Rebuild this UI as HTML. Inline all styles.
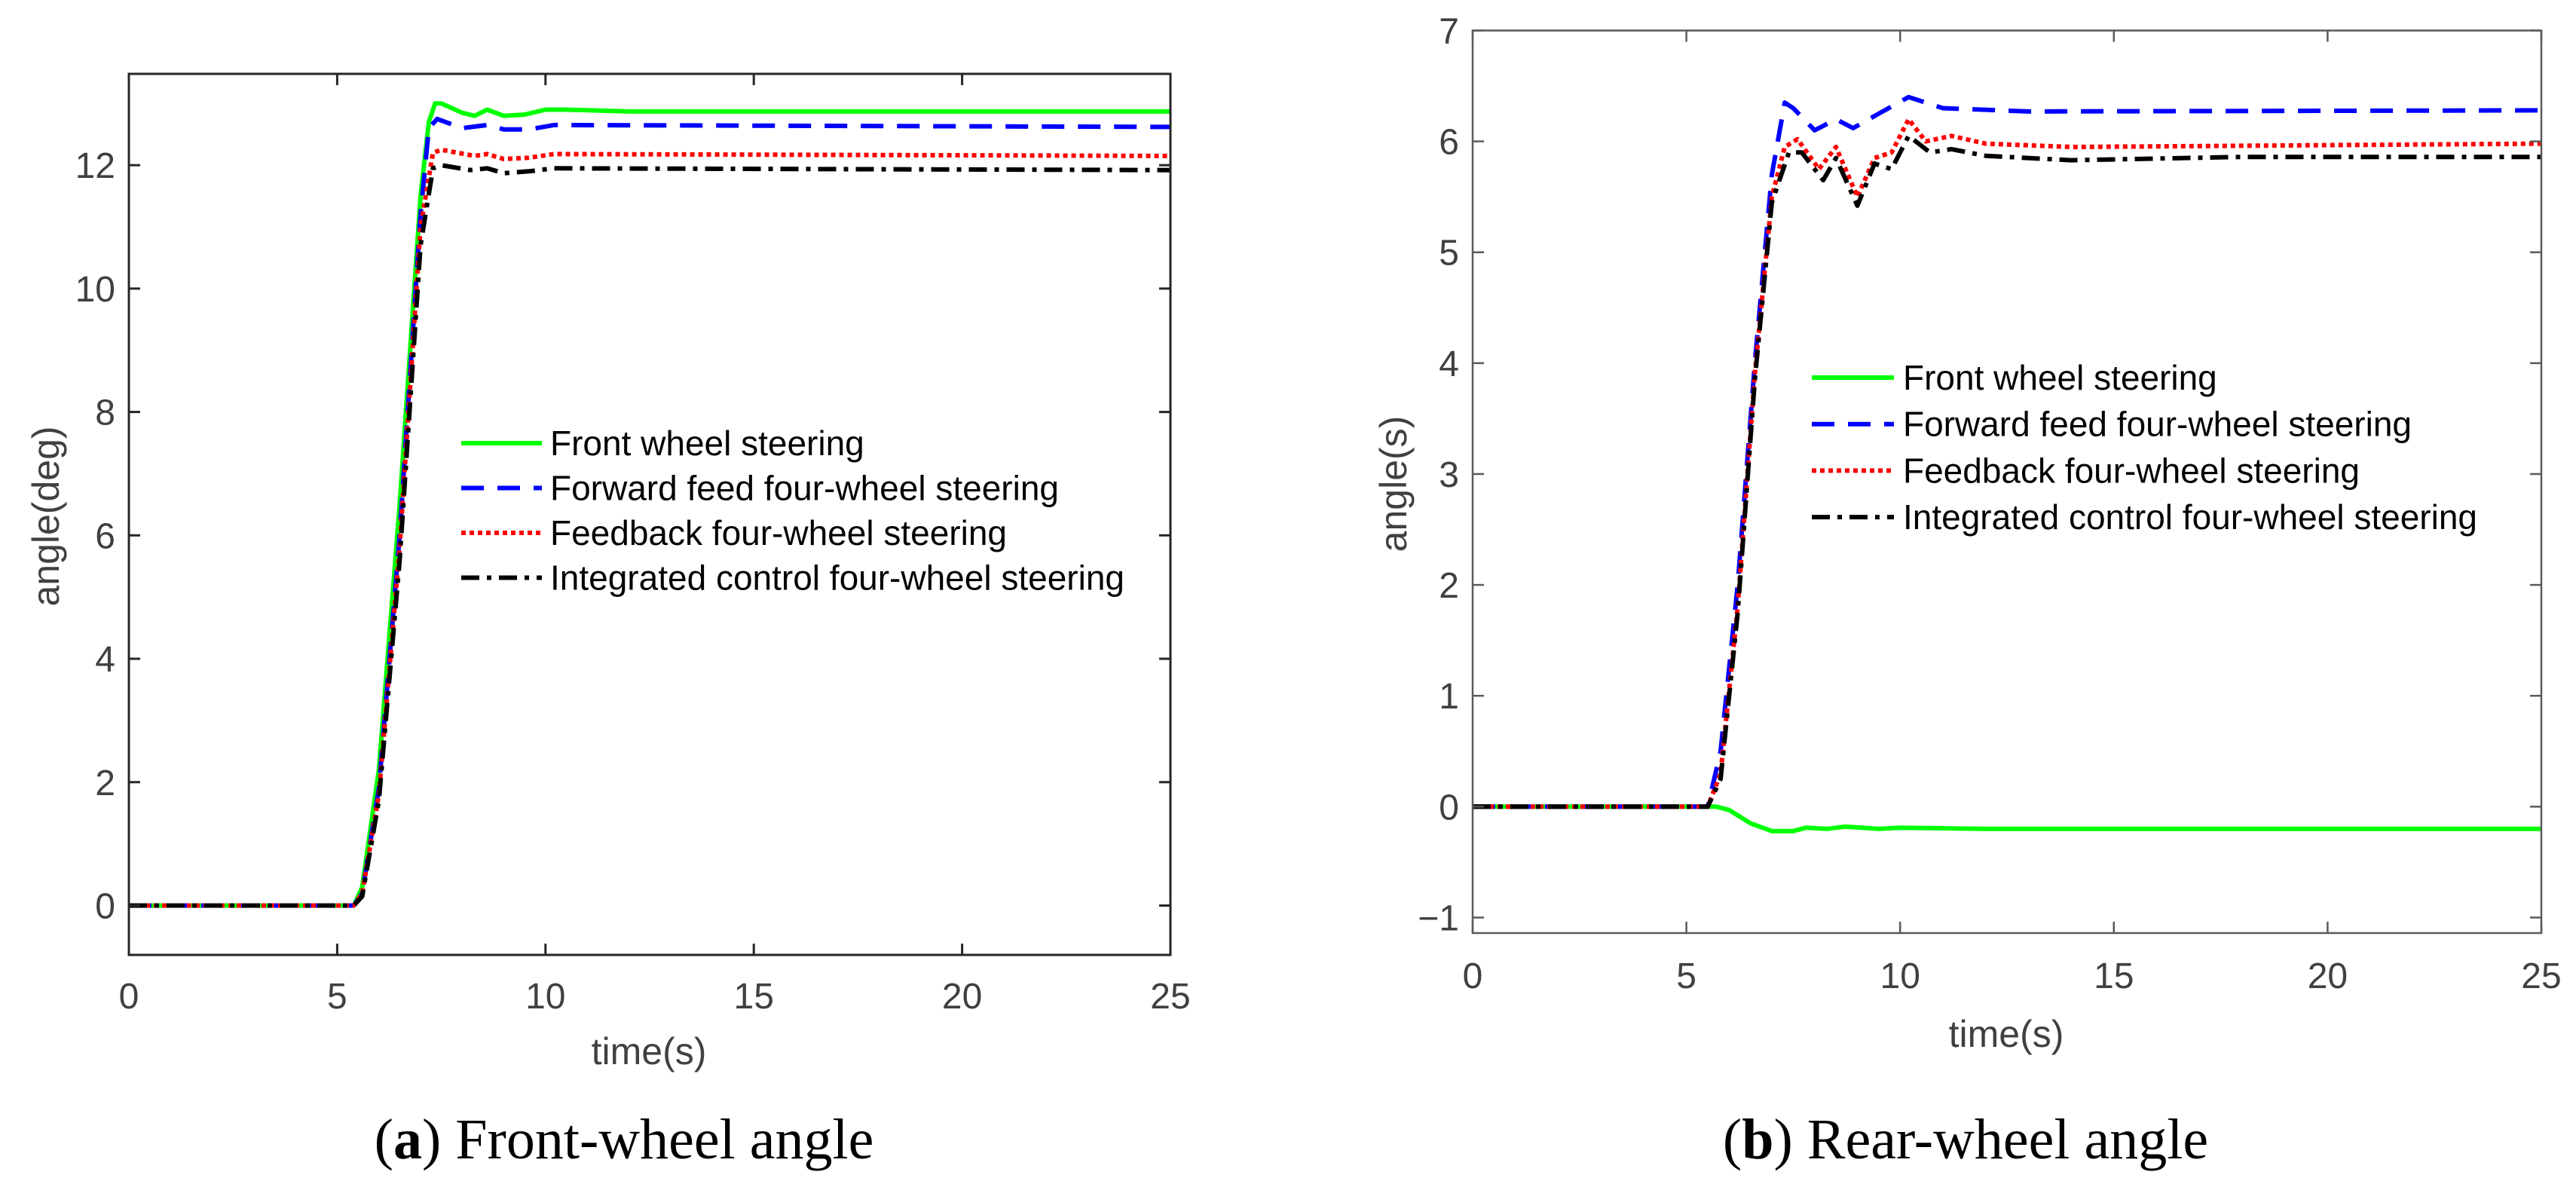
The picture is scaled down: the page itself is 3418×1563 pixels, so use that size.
<!DOCTYPE html>
<html><head><meta charset="utf-8"><style>
html,body{margin:0;padding:0;background:#fff;}
svg{display:block;font-family:"Liberation Sans",Arial,sans-serif;}
</style></head><body>
<svg id="fig" width="3418" height="1563" viewBox="0 0 3418 1563" xmlns="http://www.w3.org/2000/svg">
<rect width="3418" height="1563" fill="#fff"/>
<g id="pa"></g>
<g id="pb"></g>
<text x="828" y="1537" text-anchor="middle" font-family="Liberation Serif, serif" font-size="76" fill="#000">(<tspan font-weight="bold">a</tspan>) Front-wheel angle</text>
<text x="2608" y="1537" text-anchor="middle" font-family="Liberation Serif, serif" font-size="76" fill="#000">(<tspan font-weight="bold">b</tspan>) Rear-wheel angle</text>
</svg>
<script>
const xTicks = [0,5,10,15,20,25];
const yTicksA = [0,2,4,6,8,10,12];
const yTicksB = [-1,0,1,2,3,4,5,6,7];
const seriesNames = ["Front wheel steering","Forward feed four-wheel steering","Feedback four-wheel steering","Integrated control four-wheel steering"];
// Plot (a) data: [time, angle]
const aFront = [[0,0],[5.4,0],[5.6,0.3],[6,2.2],[6.5,6.5],[7,11.5],[7.2,12.7],[7.35,13.0],[7.5,13.0],[8,12.85],[8.3,12.8],[8.6,12.9],[9,12.8],[9.5,12.82],[10,12.9],[10.5,12.9],[12,12.87],[25,12.87]];
const aFeed = [[0,0],[5.4,0],[5.6,0.2],[6,1.9],[6.5,6.0],[7,11.2],[7.2,12.6],[7.4,12.75],[8,12.6],[8.6,12.65],[9,12.58],[9.6,12.58],[10.2,12.65],[25,12.62]];
const aBack = [[0,0],[5.4,0],[5.6,0.2],[6,1.8],[6.5,5.8],[7,11.0],[7.3,12.2],[7.5,12.25],[8.3,12.15],[8.6,12.18],[9,12.1],[9.6,12.12],[10.2,12.18],[25,12.15]];
const aInt = [[0,0],[5.4,0],[5.6,0.15],[6,1.7],[6.5,5.6],[7,10.7],[7.3,11.95],[7.5,12.0],[8.2,11.92],[8.6,11.95],[9,11.87],[9.6,11.9],[10.2,11.95],[25,11.92]];
// Plot (b) data
const bFront = [[0,0],[5.7,0],[6,-0.03],[6.5,-0.15],[7,-0.22],[7.5,-0.22],[7.8,-0.19],[8.3,-0.2],[8.7,-0.18],[9.5,-0.2],[10,-0.19],[12,-0.2],[25,-0.2]];
const bFeed = [[0,0],[5.5,0],[5.8,0.5],[6.2,2.0],[6.6,4.0],[7,5.7],[7.3,6.35],[7.5,6.3],[8,6.1],[8.5,6.2],[8.9,6.12],[9.5,6.25],[10.2,6.4],[11,6.3],[13,6.27],[25,6.28]];
const bBack = [[0,0],[5.5,0],[5.8,0.3],[6.2,1.8],[6.6,3.9],[7,5.5],[7.3,5.95],[7.6,6.02],[8.1,5.75],[8.5,5.95],[9,5.5],[9.4,5.85],[9.8,5.9],[10.2,6.2],[10.6,6.0],[11.2,6.05],[12,5.98],[14,5.95],[25,5.98]];
const bInt = [[0,0],[5.5,0],[5.8,0.25],[6.2,1.75],[6.6,3.85],[7,5.45],[7.4,5.9],[7.7,5.9],[8.2,5.65],[8.5,5.85],[9,5.42],[9.4,5.8],[9.8,5.75],[10.2,6.05],[10.7,5.9],[11.2,5.93],[12,5.87],[14,5.83],[18,5.86],[25,5.86]];

const NS="http://www.w3.org/2000/svg";
function mk(parent,tag,attrs){const e=document.createElementNS(NS,tag);for(const k in attrs)e.setAttribute(k,attrs[k]);parent.appendChild(e);return e;}
const styles=[{c:"#00ff00",d:""},{c:"#0000ff",d:"30 18"},{c:"#ff0000",d:"6 5"},{c:"#000000",d:"24 10 6 10"}];

function plot(g,cfg){
  const X=v=>cfg.l+(v-0)/(25-0)*(cfg.r-cfg.l);
  const Y=v=>cfg.b-(v-cfg.ymin)/(cfg.ymax-cfg.ymin)*(cfg.b-cfg.t);
  const clip="clip"+cfg.id;
  const defs=mk(g,"defs",{});const cp=mk(defs,"clipPath",{id:clip});mk(cp,"rect",{x:cfg.l,y:cfg.t,width:cfg.r-cfg.l,height:cfg.b-cfg.t});
  cfg.series.forEach((s,i)=>{
    const p=mk(g,"polyline",{points:s.map(q=>X(q[0]).toFixed(1)+","+Y(q[1]).toFixed(1)).join(" "),fill:"none",stroke:styles[i].c,"stroke-width":6,"stroke-dasharray":styles[i].d,"clip-path":"url(#"+clip+")","stroke-linejoin":"round"});
    
    
  });
  const box=mk(g,"rect",{x:cfg.l,y:cfg.t,width:cfg.r-cfg.l,height:cfg.b-cfg.t,fill:"none",stroke:cfg.ax,"stroke-width":cfg.aw});
  
  
  xTicks.forEach(v=>{
    mk(g,"line",{x1:X(v),x2:X(v),y1:cfg.b,y2:cfg.b-15,stroke:cfg.ax,"stroke-width":cfg.aw});
    mk(g,"line",{x1:X(v),x2:X(v),y1:cfg.t,y2:cfg.t+15,stroke:cfg.ax,"stroke-width":cfg.aw});
    const t=mk(g,"text",{x:X(v),y:cfg.xly,"text-anchor":"middle","font-size":48,fill:"#404040"});t.textContent=v;
    
    
  });
  cfg.yt.forEach(v=>{
    mk(g,"line",{x1:cfg.l,x2:cfg.l+15,y1:Y(v),y2:Y(v),stroke:cfg.ax,"stroke-width":cfg.aw});
    mk(g,"line",{x1:cfg.r,x2:cfg.r-15,y1:Y(v),y2:Y(v),stroke:cfg.ax,"stroke-width":cfg.aw});
    const t=mk(g,"text",{x:cfg.l-18,y:Y(v)+17,"text-anchor":"end","font-size":48,fill:"#404040"});t.textContent=(v<0?"\u2212"+(-v):v);
    
    
  });
  const xt=mk(g,"text",{x:cfg.xtx,y:cfg.xty,"text-anchor":"middle","font-size":50,fill:"#404040"});xt.textContent="time(s)";
  
  
  const yt=mk(g,"text",{x:0,y:0,"text-anchor":"middle","font-size":50,fill:"#404040",transform:"translate("+cfg.ytx+","+cfg.yty+") rotate(-90)"});yt.textContent=cfg.ytitle;
  
  
  seriesNames.forEach((n,i)=>{
    const y=cfg.leg.y0+i*cfg.leg.dy;
    const ln=mk(g,"line",{x1:cfg.leg.x0,x2:cfg.leg.x1,y1:y,y2:y,stroke:styles[i].c,"stroke-width":6,"stroke-dasharray":styles[i].d});
    
    
    const t=mk(g,"text",{x:cfg.leg.tx,y:y+16,"font-size":46,fill:"#000"});t.textContent=n;
    
    
  });
}
plot(document.getElementById("pa"),{id:"a",l:171,r:1553,t:98,b:1267,ymin:-0.8,ymax:13.48,yt:yTicksA,ax:"#262626",aw:3,
  series:[aFront,aFeed,aBack,aInt],xly:1338,xtx:861,xty:1412,ytx:78,yty:685,ytitle:"angle(deg)",
  leg:{x0:612,x1:719,tx:730,y0:588,dy:59.5}});
plot(document.getElementById("pb"),{id:"b",l:1954,r:3372,t:40.5,b:1238,ymin:-1.14,ymax:7,yt:yTicksB,ax:"#5a5a5a",aw:2.5,
  series:[bFront,bFeed,bBack,bInt],xly:1311,xtx:2662,xty:1389,ytx:1866,yty:642,ytitle:"angle(s)",
  leg:{x0:2404,x1:2513,tx:2525,y0:501,dy:61.7}});
</script>
</body></html>
